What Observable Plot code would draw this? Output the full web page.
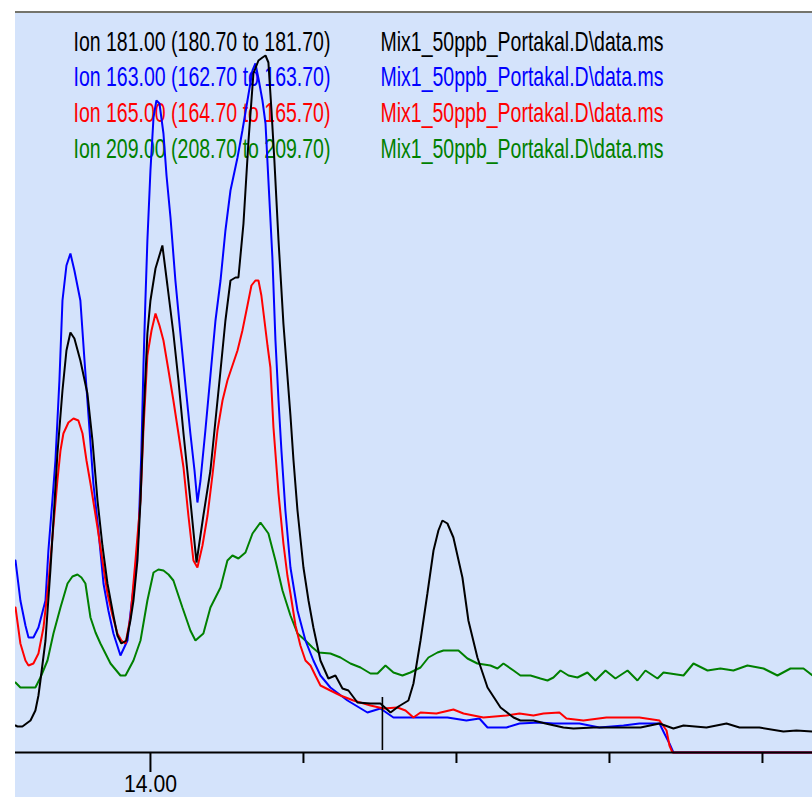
<!DOCTYPE html>
<html><head><meta charset="utf-8">
<script src="https://cdn.jsdelivr.net/npm/d3@7"></script>
<script src="https://cdn.jsdelivr.net/npm/@observablehq/plot@0.6"></script>
<style>
html,body{margin:0;padding:0;background:#ffffff;}
#wrap{position:absolute;left:15px;top:11px;width:797px;border-top:2px solid #74746c;line-height:0;}
</style></head><body><div id="wrap"></div>
<script>
// [retention time (min), abundance (thousands)]
const ion181 = [[13.9118,27],[13.9131,26],[13.9163,26],[13.9216,32],[13.9248,42],[13.9268,57],[13.9281,72],[13.9314,112],[13.9346,182],[13.9366,232],[13.9392,299],[13.9425,362],[13.9451,402],[13.9477,420],[13.9503,414],[13.9542,392],[13.9588,359],[13.9621,312],[13.9654,252],[13.9686,207],[13.9719,169],[13.9758,137],[13.9784,117],[13.9810,109],[13.9843,112],[13.9869,132],[13.9889,152],[13.9915,192],[13.9935,252],[13.9954,332],[13.9980,419],[14.0000,452],[14.0033,484],[14.0078,507],[14.0111,467],[14.0150,419],[14.0183,372],[14.0216,319],[14.0261,252],[14.0301,190],[14.0346,237],[14.0392,282],[14.0425,332],[14.0458,382],[14.0490,432],[14.0523,472],[14.0556,475],[14.0575,475],[14.0608,529],[14.0641,612],[14.0673,679],[14.0706,692],[14.0732,695],[14.0752,697],[14.0771,690],[14.0791,642],[14.0810,592],[14.0837,512],[14.0869,429],[14.0895,377],[14.0915,337],[14.0935,292],[14.0961,242],[14.1000,185],[14.1033,152],[14.1065,125],[14.1111,92],[14.1163,74],[14.1209,77],[14.1255,64],[14.1294,62],[14.1353,50],[14.1438,49],[14.1503,49],[14.1569,40],[14.1621,46],[14.1686,52],[14.1719,69],[14.1765,112],[14.1810,159],[14.1850,202],[14.1882,222],[14.1908,232],[14.1941,229],[14.1980,215],[14.2039,175],[14.2078,132],[14.2137,95],[14.2203,65],[14.2288,45],[14.2373,35],[14.2418,32],[14.2503,32],[14.2582,29],[14.2699,25],[14.2765,24],[14.2895,25],[14.3072,25],[14.3203,25],[14.3327,29],[14.3418,24],[14.3484,27],[14.3634,25],[14.3765,29],[14.3850,25],[14.3980,25],[14.4137,21],[14.4222,22],[14.4327,21]];
const ion163 = [[13.9118,192],[13.9150,152],[13.9183,127],[13.9203,115],[13.9235,115],[13.9268,125],[13.9314,152],[13.9333,202],[13.9359,252],[13.9379,292],[13.9405,372],[13.9425,452],[13.9451,487],[13.9477,499],[13.9503,482],[13.9542,452],[13.9569,392],[13.9588,352],[13.9627,269],[13.9660,222],[13.9693,169],[13.9725,142],[13.9758,119],[13.9804,97],[13.9850,112],[13.9869,139],[13.9895,172],[13.9922,219],[13.9941,302],[13.9954,385],[13.9967,452],[13.9980,512],[14.0000,582],[14.0020,635],[14.0039,652],[14.0059,649],[14.0085,619],[14.0105,577],[14.0131,535],[14.0163,472],[14.0196,419],[14.0229,367],[14.0261,319],[14.0288,282],[14.0307,250],[14.0327,272],[14.0359,322],[14.0392,377],[14.0425,432],[14.0458,472],[14.0490,522],[14.0523,562],[14.0569,595],[14.0601,622],[14.0634,652],[14.0667,682],[14.0686,689],[14.0706,674],[14.0732,652],[14.0752,629],[14.0771,572],[14.0797,495],[14.0817,412],[14.0837,352],[14.0856,302],[14.0882,242],[14.0915,185],[14.0961,142],[14.1013,112],[14.1065,92],[14.1111,77],[14.1176,65],[14.1288,52],[14.1418,40],[14.1503,44],[14.1588,35],[14.1719,35],[14.1941,35],[14.2065,32],[14.2150,34],[14.2203,25],[14.2327,25],[14.2412,29],[14.2542,30],[14.2634,29],[14.2804,29],[14.2935,25],[14.3092,27],[14.3196,29],[14.3327,29],[14.3359,19],[14.3392,9],[14.3418,0],[14.4327,0]];
const ion165 = [[13.9118,145],[13.9150,109],[13.9183,92],[13.9203,87],[13.9235,89],[13.9268,99],[13.9301,125],[13.9333,169],[13.9366,227],[13.9392,272],[13.9412,302],[13.9431,319],[13.9464,330],[13.9497,334],[13.9529,332],[13.9556,319],[13.9582,292],[13.9608,269],[13.9654,225],[13.9686,192],[13.9719,159],[13.9752,137],[13.9784,119],[13.9810,112],[13.9837,109],[13.9869,135],[13.9902,192],[13.9935,252],[13.9954,322],[13.9980,397],[14.0007,422],[14.0033,439],[14.0059,427],[14.0085,412],[14.0118,382],[14.0150,352],[14.0183,319],[14.0216,285],[14.0248,237],[14.0281,192],[14.0307,185],[14.0340,207],[14.0373,237],[14.0405,277],[14.0438,322],[14.0471,352],[14.0503,372],[14.0536,387],[14.0569,402],[14.0601,422],[14.0634,447],[14.0660,467],[14.0686,472],[14.0706,472],[14.0725,457],[14.0745,432],[14.0765,407],[14.0784,385],[14.0804,325],[14.0837,259],[14.0869,209],[14.0895,177],[14.0915,159],[14.0948,127],[14.0980,107],[14.1013,92],[14.1046,87],[14.1078,77],[14.1111,67],[14.1176,62],[14.1242,57],[14.1327,52],[14.1438,47],[14.1523,44],[14.1614,45],[14.1667,42],[14.1719,35],[14.1765,40],[14.1869,39],[14.1980,43],[14.2046,39],[14.2176,35],[14.2327,37],[14.2412,39],[14.2503,37],[14.2569,39],[14.2673,40],[14.2719,34],[14.2830,32],[14.2980,35],[14.3111,35],[14.3196,35],[14.3327,32],[14.3373,22],[14.3392,7],[14.3412,0],[14.4327,0]];
const ion209 = [[13.9118,70],[13.9150,65],[13.9248,65],[13.9281,75],[13.9327,92],[13.9366,119],[13.9412,145],[13.9458,169],[13.9490,176],[13.9523,178],[13.9549,175],[13.9575,169],[13.9608,135],[13.9641,120],[13.9673,109],[13.9739,89],[13.9804,77],[13.9837,77],[13.9889,92],[13.9935,112],[13.9980,152],[14.0020,180],[14.0052,183],[14.0085,182],[14.0118,178],[14.0150,172],[14.0209,145],[14.0261,122],[14.0294,112],[14.0346,119],[14.0392,145],[14.0458,165],[14.0503,192],[14.0536,197],[14.0575,194],[14.0621,200],[14.0667,219],[14.0719,230],[14.0771,219],[14.0817,192],[14.0863,162],[14.0915,137],[14.0961,119],[14.1013,112],[14.1059,105],[14.1098,100],[14.1176,99],[14.1242,95],[14.1307,89],[14.1373,85],[14.1438,79],[14.1484,79],[14.1536,87],[14.1588,80],[14.1647,77],[14.1699,80],[14.1765,85],[14.1817,95],[14.1876,100],[14.1915,102],[14.2013,102],[14.2072,94],[14.2137,89],[14.2222,87],[14.2268,84],[14.2307,89],[14.2373,82],[14.2418,77],[14.2484,77],[14.2549,74],[14.2595,72],[14.2634,75],[14.2680,82],[14.2732,77],[14.2791,75],[14.2856,80],[14.2908,72],[14.2974,82],[14.3039,74],[14.3118,82],[14.3183,72],[14.3235,82],[14.3314,74],[14.3353,80],[14.3484,77],[14.3549,89],[14.3641,82],[14.3725,84],[14.3810,82],[14.3902,87],[14.4007,84],[14.4098,77],[14.4183,84],[14.4268,84],[14.4327,77]];

const ionNames = ["Ion 181.00 (180.70 to 181.70)", "Ion 163.00 (162.70 to 163.70)", "Ion 165.00 (164.70 to 165.70)", "Ion 209.00 (208.70 to 209.70)"];
const fileName = "Mix1_50ppb_Portakal.D\\data.ms";
const majorTicks = [14.00];
const minorTicks = [14.10, 14.20, 14.30, 14.40];
const markers = [{time: 14.1516, low: 2, high: 55}];
const timeDomain = [13.9118, 14.4327];
const abundanceDomain = [0, 739];

// styles
const colors = ["#000000", "#0000ff", "#ff0000", "#008000"];
const series = [ion181, ion163, ion165, ion209];
const drawOrder = [3, 1, 2, 0];
const legendBaselines = [37, 72, 108, 144];

const marks = [];
ionNames.forEach((name, i) => {
  marks.push(Plot.text([name], {text: d => d, frameAnchor: "top-left", dx: 58, dy: legendBaselines[i], lineAnchor: "bottom", textAnchor: "start", fill: colors[i], fontSize: 27}));
  marks.push(Plot.text([fileName], {text: d => d, frameAnchor: "top-left", dx: 365, dy: legendBaselines[i], lineAnchor: "bottom", textAnchor: "start", fill: colors[i], fontSize: 27}));
});
drawOrder.forEach(i => {
  marks.push(Plot.line(series[i], {x: d => d[0], y: d => d[1], stroke: colors[i], strokeWidth: 2, strokeLinejoin: "miter", curve: "linear"}));
});
marks.push(Plot.ruleX(markers, {x: "time", y1: "low", y2: "high", stroke: "#000", strokeWidth: 1.6}));
marks.push(Plot.ruleY([0], {stroke: "#000", strokeWidth: 2}));
marks.push(Plot.axisX(majorTicks, {label: null, tickSize: 20, tickPadding: 2, tickFormat: d => d.toFixed(2), fontSize: 24, stroke: "#000", strokeWidth: 2, fill: "#000"}));
marks.push(Plot.axisX(minorTicks, {label: null, tickSize: 11, tickFormat: () => "", stroke: "#000", strokeWidth: 2}));

const svg = Plot.plot({
  width: 797,
  height: 784,
  marginLeft: 0, marginRight: 0, marginTop: 0, marginBottom: 45,
  x: {domain: timeDomain, axis: null, label: null},
  y: {domain: abundanceDomain, axis: null, label: null},
  style: {background: "#d4e3fb", fontFamily: "'Liberation Sans', Arial, sans-serif", overflow: "hidden"},
  marks
});
document.getElementById("wrap").appendChild(svg);
// condense the bitmap-like fonts horizontally to the widths seen in the reference
d3.select(svg).selectAll("text").each(function() {
  const s = this.textContent;
  const w = s.startsWith("Ion ") ? 257 : s.startsWith("Mix1") ? 283 : s === "14.00" ? 53 : null;
  if (!w) return;
  const natural = this.getComputedTextLength();
  if (!natural) return;
  const k = w / natural;
  const ax = +(this.getAttribute("x") || 0);
  const t = this.getAttribute("transform") || "";
  this.setAttribute("transform", `${t} translate(${ax},0) scale(${k},1) translate(${-ax},0)`);
});
</script></body></html>
